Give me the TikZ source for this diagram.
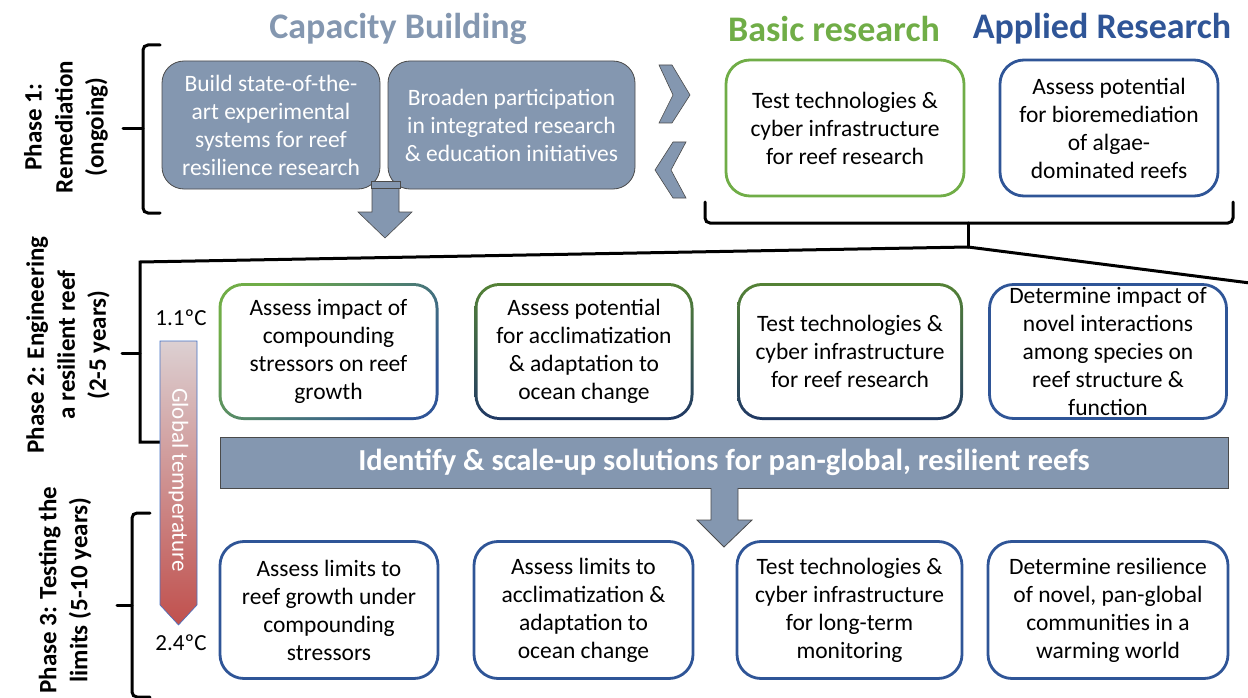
\documentclass[tikz,border=0pt]{standalone}
\usepackage{fontspec}
\setmainfont{Carlito}
\definecolor{capfill}{HTML}{8497B0}
\definecolor{capedge}{HTML}{4A4A4A}
\definecolor{bgreen}{HTML}{70AD47}
\definecolor{ablue}{HTML}{2F5597}
\definecolor{dgreen}{HTML}{548235}
\definecolor{navy}{HTML}{203864}
\definecolor{temptop}{HTML}{DCD0D2}
\definecolor{tempbot}{HTML}{C0504D}
\definecolor{tempedge}{HTML}{4472C4}
\begin{document}
\begin{tikzpicture}[x=1pt,y=-1pt,
  boxfont/.style={font=\fontsize{23.5}{28}\selectfont},
  capbox/.style={draw=capedge, line width=0.8pt, fill=capfill, rounded corners=22pt, text=white, align=center, inner sep=0pt, boxfont},
  wbox/.style={draw=#1, line width=2.8pt, fill=white, rounded corners=24pt, align=center, inner sep=0pt, boxfont},
  gbase/.style={draw=none, rounded corners=25pt, inner sep=0pt},
  ginner/.style={fill=white, draw=none, rounded corners=22pt, align=center, inner sep=0pt, boxfont},
  title/.style={font=\fontsize{36}{40}\selectfont\bfseries},
  phase/.style={font=\fontsize{25}{31}\selectfont\bfseries, align=center, rotate=90},
  brk/.style={line width=3pt, line cap=round, rounded corners=5pt},
  chev/.style={fill=capfill, draw=capedge, line width=0.6pt},
  temp/.style={font=\fontsize{23}{26}\selectfont}
]
\useasboundingbox (0,0) rectangle (1248,698);

% titles
\node[title, text=capfill] (tcap) at (398,29) {Capacity Building};
\node[title, text=bgreen] (tbas) at (834,29) {Basic research};
\node[title, text=ablue] (tapp) at (1102,29) {Applied Research};

% phase labels
\node[phase] (ph1) at (66,127) {Phase 1:\\Remediation\\(ongoing)};
\node[phase] (ph2) at (68,345) {Phase 2: Engineering\\a resilient reef\\(2-5 years)};
\node[phase] (ph3) at (65,590) {Phase 3: Testing the\\limits (5-10 years)};

% capacity building boxes
\node[capbox, minimum width=218pt, minimum height=128pt] (cb1) at (271,125) {Build state-of-the-\\art experimental\\systems for reef\\resilience research};
\node[capbox, minimum width=247pt, minimum height=128pt] (cb2) at (511.5,125) {Broaden participation\\in integrated research\\\& education initiatives};

% small down arrow
\coordinate (sa) at (385,238);
\path[chev] (372,184) -- (399,184) -- (399,212) -- (412,212) -- (sa) -- (358,212) -- (372,212) -- cycle;
\path[chev] (371,181) rectangle (400,188);

% chevrons
\path[chev] (659,65) -- (672,65) -- (690,95) -- (672,123) -- (659,123) -- (673,95) -- cycle;
\path[chev] (686,142) -- (673,142) -- (655,170) -- (673,198) -- (686,198) -- (671,170) -- cycle;

% basic / applied boxes
\node[wbox=bgreen, minimum width=238pt, minimum height=136pt] (br) at (845,128) {Test technologies \&\\cyber infrastructure\\for reef research};
\node[wbox=ablue, minimum width=218pt, minimum height=136pt] (ar) at (1109,128) {Assess potential\\for bioremediation\\of algae-\\dominated reefs};

% brackets
\coordinate (b1t) at (160,45); \coordinate (b1b) at (160,213); \coordinate (b1m) at (123,129);
\draw[brk] (b1t) -- (143,45) -- (143,213) -- (b1b);
\draw[brk] (143,129) -- (b1m);

\coordinate (tl) at (705,202); \coordinate (tr) at (1233,202); \coordinate (tip) at (968,247);
\draw[brk] (tl) -- (705,223) -- (1233,223) -- (tr);
\draw[brk, rounded corners=0pt] (968,223) -- (tip);
\coordinate (p2e) at (160,442); \coordinate (rend) at (1250,283); \coordinate (p2m) at (122,353);
\draw[brk, rounded corners=0pt] (tip) -- (140,262) -- (140,442) -- (p2e);
\draw[brk, rounded corners=0pt] (tip) -- (rend);
\draw[brk] (140,353) -- (p2m);

\coordinate (b3t) at (150,513); \coordinate (b3b) at (150,697); \coordinate (b3m) at (117,605);
\draw[brk] (b3t) -- (132,513) -- (132,697) -- (b3b);
\draw[brk] (132,605) -- (b3m);

% temperature arrow
\coordinate (ttip) at (178.5,625);
\shade[top color=temptop, bottom color=tempbot] (160,341) -- (197,341) -- (197,605) -- (ttip) -- (160,605) -- cycle;
\draw[tempedge, line width=0.6pt] (160,341) -- (197,341) -- (197,605) -- (ttip) -- (160,605) -- cycle;
\node[temp, text=white, rotate=-90] (gt) at (178.5,480) {Global temperature};
\node[temp] (t1) at (181,318) {1.1ºC};
\node[temp] (t2) at (181,643) {2.4ºC};

% phase 2 boxes
\node[gbase, minimum width=220pt, minimum height=137pt, top color=bgreen, bottom color=ablue, shading angle=45] (p2a) at (328.5,351.5) {};
\node[ginner, minimum width=214pt, minimum height=131pt] (p2at) at (p2a.center) {Assess impact of\\compounding\\stressors on reef\\growth};
\node[gbase, minimum width=219pt, minimum height=137pt, top color=dgreen, bottom color=navy] (p2b) at (584,351.5) {};
\node[ginner, minimum width=213pt, minimum height=131pt] (p2bt) at (p2b.center) {Assess potential\\for acclimatization\\\& adaptation to\\ocean change};
\node[gbase, minimum width=226pt, minimum height=137pt, top color=dgreen, bottom color=navy] (p2c) at (850,351.5) {};
\node[ginner, minimum width=220pt, minimum height=131pt] (p2ct) at (p2c.center) {Test technologies \&\\cyber infrastructure\\for reef research};
\node[wbox=ablue, minimum width=237pt, minimum height=134pt] (p2d) at (1108,351.5) {Determine impact of\\novel interactions\\among species on\\reef structure \&\\function};

% banner
\node[draw=capedge, line width=0.8pt, fill=capfill, minimum width=1008pt, minimum height=51pt, inner sep=0pt, text=white, font=\fontsize{30.5}{34}\selectfont\bfseries] (ban) at (724,462.5) {Identify \& scale-up solutions for pan-global, resilient reefs};
\coordinate (btip) at (724,547);
\fill[capfill] (711,487) -- (738,487) -- (738,520) -- (752,520) -- (btip) -- (697,520) -- (711,520) -- cycle;
\draw[capedge, line width=0.8pt] (711,488) -- (711,520) -- (697,520) -- (btip) -- (752,520) -- (738,520) -- (738,488);

% phase 3 boxes
\node[wbox=ablue, minimum width=218pt, minimum height=137pt] (p3a) at (329,610) {Assess limits to\\reef growth under\\compounding\\stressors};
\node[wbox=ablue, minimum width=219pt, minimum height=137pt] (p3b) at (583.5,610) {Assess limits to\\acclimatization \&\\adaptation to\\ocean change};
\node[wbox=ablue, minimum width=225pt, minimum height=137pt] (p3c) at (849.5,610) {Test technologies \&\\cyber infrastructure\\for long-term\\monitoring};
\node[wbox=ablue, minimum width=240pt, minimum height=137pt] (p3d) at (1108,610) {Determine resilience\\of novel, pan-global\\communities in a\\warming world};
\end{tikzpicture}
\end{document}
